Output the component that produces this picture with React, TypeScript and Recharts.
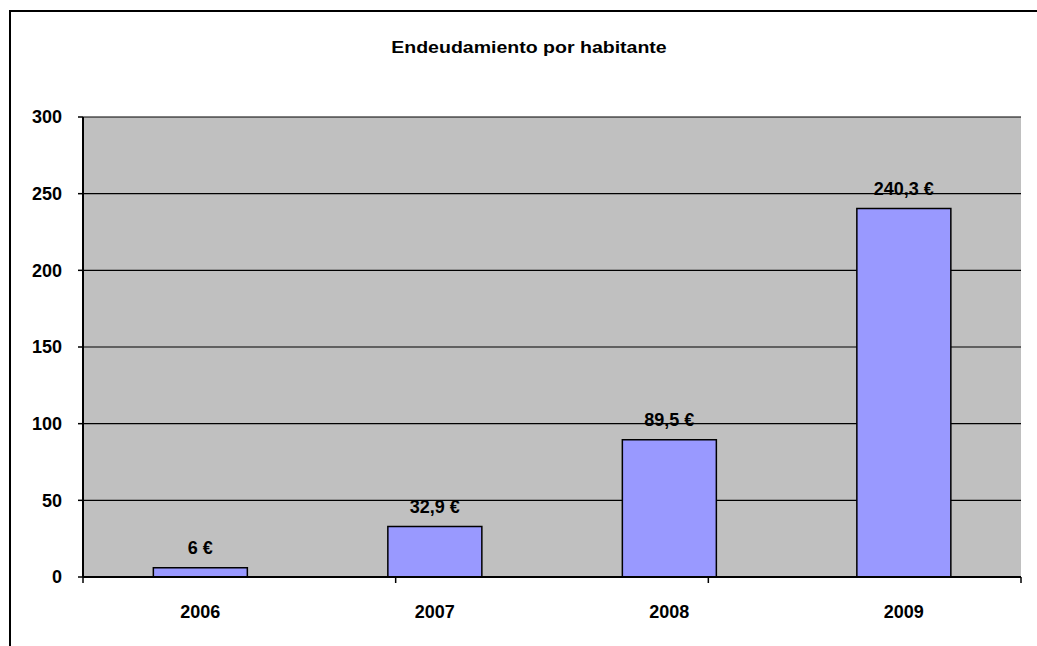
import React from 'react';
import { BarChart, Bar, XAxis, YAxis, CartesianGrid, LabelList } from 'recharts';

const years = ['2006', '2007', '2008', '2009'];
const debtPerInhabitant = [6, 32.9, 89.5, 240.3];
const yTicks = [0, 50, 100, 150, 200, 250, 300];
const boundaryTicks = [0, 1, 2, 3, 4];
const title = 'Endeudamiento por habitante';

const data = years.map((y, i) => ({ year: y, value: debtPerInhabitant[i] }));

const FONT = '"Liberation Sans", Arial, Helvetica, sans-serif';
const fmt = (v: any) => `${String(v).replace('.', ',')} €`;

export default function App() {
  return (
    <div style={{ position: 'absolute', left: 0, top: 0, width: 1037, height: 646, overflow: 'hidden', background: '#fff', fontFamily: FONT }}>
      <div style={{ position: 'absolute', left: 9, top: 10, width: 1100, height: 700, borderLeft: '2px solid #000', borderTop: '2px solid #000' }} />
      <div style={{ position: 'absolute', left: 0, width: 1058, top: 40, textAlign: 'center', fontSize: 16, lineHeight: '16px', fontWeight: 'bold', color: '#000', transform: 'scaleX(1.22)', transformOrigin: '529px 0' }}>
        {title}
      </div>
      <div style={{ position: 'absolute', left: 0, top: 0 }}>
        <BarChart width={1037} height={646} data={data} margin={{ top: 117, right: 16, bottom: 28, left: 10 }} barCategoryGap="30%">
          <CartesianGrid xAxisId="cat" yAxisId="left" vertical={false} horizontal={true} stroke="#000" strokeWidth={1.2} fill="#C0C0C0" fillOpacity={1} />
          <XAxis xAxisId="aBounds" type="number" domain={[0, 4]} ticks={boundaryTicks} height={1} tickFormatter={() => ''} tick={{ fontSize: 1 }} tickSize={6} axisLine={{ stroke: '#000', strokeWidth: 2 }} tickLine={{ stroke: '#000', strokeWidth: 1.5 }} interval={0} allowDataOverflow />
          <XAxis dataKey="year" xAxisId="cat" height={40} axisLine={false} tickLine={false} tickSize={0} tickMargin={27} tick={{ fill: '#000', fontSize: 18, fontWeight: 'bold', fontFamily: FONT }} interval={0} />
          <XAxis xAxisId="top" orientation="top" dataKey="year" height={0} tick={false} tickLine={false} axisLine={{ stroke: '#808080', strokeWidth: 2 }} />
          <YAxis yAxisId="left" domain={[0, 300]} ticks={yTicks} width={73} tickSize={5} tickMargin={16} axisLine={{ stroke: '#000', strokeWidth: 2 }} tickLine={{ stroke: '#000', strokeWidth: 1.5 }} tick={{ fill: '#000', fontSize: 18, fontWeight: 'bold', fontFamily: FONT }} interval={0} />
          <YAxis yAxisId="right" orientation="right" domain={[0, 300]} width={0} tick={false} tickLine={false} axisLine={{ stroke: '#808080', strokeWidth: 2 }} />
          <Bar dataKey="value" xAxisId="cat" yAxisId="left" fill="#9999FF" stroke="#000" strokeWidth={1.5} isAnimationActive={false}>
            <LabelList dataKey="value" position="top" offset={14} formatter={fmt} fill="#000" fontSize={18} fontWeight="bold" fontFamily={FONT} />
          </Bar>
        </BarChart>
      </div>
    </div>
  );
}
